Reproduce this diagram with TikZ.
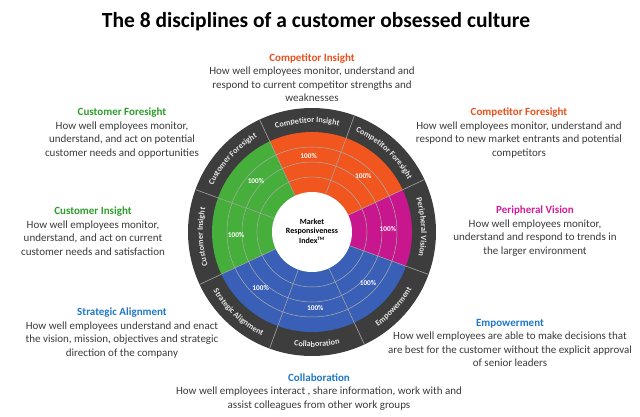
\documentclass[tikz,border=0pt]{standalone}
\usepackage{fontspec}
\setmainfont{Carlito}
\usetikzlibrary{decorations.text}
\definecolor{ringgray}{HTML}{3D3D3D}
\definecolor{ringtext}{HTML}{E6E6E6}
\definecolor{comp}{HTML}{F0561E}
\definecolor{cust}{HTML}{46AE3A}
\definecolor{pvis}{HTML}{C8168E}
\definecolor{coll}{HTML}{3A5FB6}
\definecolor{hdorange}{HTML}{E8501C}
\definecolor{hdgreen}{HTML}{2E9E2A}
\definecolor{hdmagenta}{HTML}{D21C98}
\definecolor{hdblue}{HTML}{1F78C8}
\definecolor{bodytext}{HTML}{3A3A3A}
\newcommand\ringfont{\fontsize{8.2}{9}\selectfont\bfseries}

\begin{document}
\begin{tikzpicture}[x=1pt,y=1pt,
  blk/.style={align=center,text=bodytext,font=\fontsize{11}{13.5}\selectfont},
  pct/.style={text=white,font=\fontsize{7.3}{8}\selectfont\bfseries},
  grid/.style={draw=gray!65,line width=0.5pt},
  ringline/.style={draw=gray!70,line width=0.6pt}]
\useasboundingbox (-312,-184) rectangle (328,232);
\fill[ringgray] (0,0) circle (124);
\foreach \a/\c in {-20/pvis,25/comp,70/comp,115/cust,160/cust,205/coll,250/coll,295/coll}
  \fill[\c] (0,0) -- (\a:100) arc[start angle=\a,end angle=\a+45,radius=100] -- cycle;
\foreach \r in {55,70,85} \draw[grid] (0,0) circle (\r);
\foreach \a in {25,70,...,340} {
  \draw[grid] (\a:40) -- (\a:100);
  \draw[ringline] (\a:100) -- (\a:124);
}
\fill[white] (0,0) circle (40);
\node[text=black,align=center,font=\fontsize{8}{9.5}\selectfont\bfseries] (mri) at (0,1)
  {Market\\Responsiveness\\Index\textsuperscript{\tiny TM}};
\foreach \a in {2.5,47.5,...,317.5} \node[pct] at (\a:76) {100\%};
\foreach \a/\t in {2.5/Peripheral Vision,47.5/Competitor Foresight,92.5/Competitor Insight,137.5/Customer Foresight,182.5/Customer Insight}
  \path[decorate,decoration={text along path,text align=center,text color=ringtext,
    text/.expanded={|\noexpand\ringfont|\t}}]
    (\a+22.5:109.2) arc[start angle=\a+22.5,end angle=\a-22.5,radius=109.2];
\foreach \a/\t in {227.5/Strategic Alignment,272.5/Collaboration,317.5/Empowerment}
  \path[decorate,decoration={text along path,text align=center,text color=ringtext,
    text/.expanded={|\noexpand\ringfont|\t}}]
    (\a-22.5:115) arc[start angle=\a-22.5,end angle=\a+22.5,radius=115];

\node[font=\fontsize{21.5}{24}\selectfont\bfseries] (title) at (4,210)
  {The 8 disciplines of a customer obsessed culture};
\node[blk] (compins) at (0,154.5) {\textcolor{hdorange}{\bfseries Competitor Insight}\\
  How well employees monitor, understand and\\respond to current competitor strengths and\\weaknesses};
\node[blk] (custfor) at (-190,99) {\textcolor{hdgreen}{\bfseries Customer Foresight}\\
  How well employees monitor,\\understand, and act on potential\\customer needs and opportunities};
\node[blk] (compfor) at (207,99) {\textcolor{hdorange}{\bfseries Competitor Foresight}\\
  How well employees monitor, understand and\\respond to new market entrants and potential\\competitors};
\node[blk] (custins) at (-219,1) {\textcolor{hdgreen}{\bfseries Customer Insight}\\
  How well employees monitor,\\understand, and act on current\\customer needs and satisfaction};
\node[blk] (pvision) at (223,1) {\textcolor{hdmagenta}{\bfseries Peripheral Vision}\\
  How well employees monitor,\\understand and respond to trends in\\the larger environment};
\node[blk] (stratal) at (-190,-101) {\textcolor{hdblue}{\bfseries Strategic Alignment}\\
  How well employees understand and enact\\the vision, mission, objectives and strategic\\direction of the company};
\node[blk] (empower) at (198,-111) {\textcolor{hdblue}{\bfseries Empowerment}\\
  How well employees are able to make decisions that\\are best for the customer without the explicit approval\\of senior leaders};
\node[blk] (collab) at (7,-160) {\textcolor{hdblue}{\bfseries Collaboration}\\
  How well employees interact , share information, work with and\\assist colleagues from other work groups};
\end{tikzpicture}
\end{document}
